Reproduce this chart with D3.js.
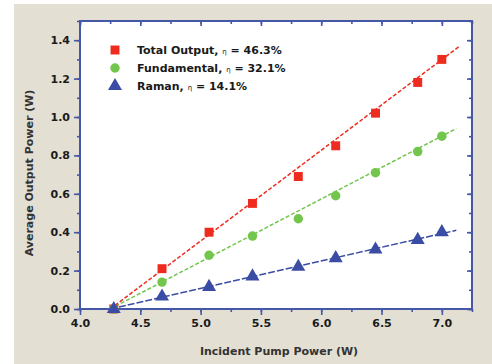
<!DOCTYPE html>
<html>
<head>
<meta charset="utf-8">
<script src="https://cdn.jsdelivr.net/npm/d3@7"></script>
<style>
  body { margin: 0; background: #fff; }
  text { font-family: 'DejaVu Sans', sans-serif; font-weight: bold; }
</style>
</head>
<body>
<div id="chart"></div>
<script>
'use strict'

// measured pump powers (W)
const pumpPower = [4.28, 4.68, 5.07, 5.43, 5.81, 6.12, 6.45, 6.8, 7.0]
// output powers (W)
const totalOutput = [0.0, 0.21, 0.40, 0.55, 0.69, 0.85, 1.02, 1.18, 1.30]
const fundamental = [0.0, 0.14, 0.28, 0.38, 0.47, 0.59, 0.71, 0.82, 0.90]
const raman = [0.0, 0.065, 0.115, 0.17, 0.22, 0.265, 0.31, 0.36, 0.40]
// linear fits, [x, y] end points
const totalFit = [[4.25, 0], [7.15, 1.37]]
const fundFit = [[4.25, 0], [7.12, 0.94]]
const ramanFit = [[4.25, 0], [7.12, 0.41]]

const xTicks = [4.0, 4.5, 5.0, 5.5, 6.0, 6.5, 7.0]
const yTicks = [0.0, 0.2, 0.4, 0.6, 0.8, 1.0, 1.2, 1.4]
const legendNames = ['Total Output, ', 'Fundamental, ', 'Raman, ']
const legendEta = ['46.3%', '32.1%', '14.1%']

const width = 492
const height = 364
const plot = { left: 80, right: 472, top: 21, bottom: 309 }
const axisBlue = '#4757a8'
const colors = ['#ee2b1f', '#72c64c', '#3a4ca4']
const dashes = ['4,2', '4,2', '7,2']

const svg = d3.select('#chart').append('svg')
  .attr('width', width)
  .attr('height', height)

// beige panel
svg.append('rect')
  .attr('x', 14).attr('y', 4)
  .attr('width', width - 14).attr('height', height - 4)
  .attr('fill', '#e3dfd3')

svg.append('rect')
  .attr('x', plot.left).attr('y', plot.top)
  .attr('width', plot.right - plot.left).attr('height', plot.bottom - plot.top)
  .attr('fill', '#fff')

const x = d3.scaleLinear().domain([4.0, 7.25]).range([plot.left, plot.right])
const y = d3.scaleLinear().domain([0, 1.5]).range([plot.bottom, plot.top])

const xMinor = d3.range(4.0, 7.26, 0.25)
const yMinor = d3.range(0, 1.51, 0.1)

function styleAxis (g) {
  g.select('.domain').remove()
  g.selectAll('line').attr('stroke', axisBlue).attr('stroke-width', 1.6)
  g.selectAll('text').attr('fill', '#1a1a1a').style('font-size', '11px')
}

// minor ticks
svg.append('g').attr('transform', `translate(0,${plot.bottom})`)
  .call(d3.axisBottom(x).tickValues(xMinor).tickSize(3).tickFormat(''))
  .call(styleAxis)
svg.append('g').attr('transform', `translate(0,${plot.top})`)
  .call(d3.axisBottom(x).tickValues(xMinor).tickSize(3).tickFormat(''))
  .call(styleAxis)
svg.append('g').attr('transform', `translate(${plot.left},0)`)
  .call(d3.axisLeft(y).tickValues(yMinor).tickSize(3).tickFormat(''))
  .call(styleAxis)
svg.append('g').attr('transform', `translate(${plot.right},0)`)
  .call(d3.axisLeft(y).tickValues(yMinor).tickSize(3).tickFormat(''))
  .call(styleAxis)

// major ticks
svg.append('g').attr('transform', `translate(0,${plot.bottom})`)
  .call(d3.axisBottom(x).tickValues(xTicks).tickSize(6).tickPadding(4).tickFormat(d3.format('.1f')))
  .call(styleAxis)
svg.append('g').attr('transform', `translate(0,${plot.top})`)
  .call(d3.axisBottom(x).tickValues(xTicks).tickSize(5).tickFormat(''))
  .call(styleAxis)
svg.append('g').attr('transform', `translate(${plot.left},0)`)
  .call(d3.axisLeft(y).tickValues(yTicks).tickSize(6).tickPadding(4).tickFormat(d3.format('.1f')))
  .call(styleAxis)
svg.append('g').attr('transform', `translate(${plot.right},0)`)
  .call(d3.axisLeft(y).tickValues(yTicks).tickSize(5).tickFormat(''))
  .call(styleAxis)

// frame
svg.append('rect')
  .attr('x', plot.left).attr('y', plot.top)
  .attr('width', plot.right - plot.left).attr('height', plot.bottom - plot.top)
  .attr('fill', 'none')
  .attr('stroke', axisBlue)
  .attr('stroke-width', 2)

// fit lines
const line = d3.line().x(d => x(d[0])).y(d => y(d[1]))
;[totalFit, fundFit, ramanFit].forEach((fit, i) => {
  svg.append('path')
    .attr('d', line(fit))
    .attr('fill', 'none')
    .attr('stroke', colors[i])
    .attr('stroke-width', 1.5)
    .attr('stroke-dasharray', dashes[i])
})

// markers
const symbols = [d3.symbolSquare, d3.symbolCircle, d3.symbolTriangle]
const sizes = [80, 70, 85]
;[totalOutput, fundamental, raman].forEach((series, i) => {
  svg.append('g').selectAll('path')
    .data(series)
    .join('path')
    .attr('d', d3.symbol().type(symbols[i]).size(sizes[i]))
    .attr('transform', (d, j) => `translate(${x(pumpPower[j])},${y(d)})`)
    .attr('fill', colors[i])
})

// legend
const legend = svg.append('g')
legendNames.forEach((name, i) => {
  const ly = 50 + i * 18
  legend.append('path')
    .attr('d', d3.symbol().type(symbols[i]).size(sizes[i])())
    .attr('transform', `translate(115,${ly})`)
    .attr('fill', colors[i])
  const t = legend.append('text')
    .attr('x', 137).attr('y', ly + 4)
    .attr('fill', '#1a1a1a')
    .style('font-size', '11px')
  t.append('tspan').text(name)
  t.append('tspan').text('\u03b7').style('font-size', '7px').style('font-weight', 'normal')
  t.append('tspan').text(' = ' + legendEta[i])
})

// axis titles
svg.append('text')
  .attr('x', 279).attr('y', 355)
  .attr('text-anchor', 'middle')
  .attr('fill', '#333')
  .style('font-size', '11px')
  .text('Incident Pump Power (W)')

svg.append('text')
  .attr('transform', 'translate(33,173) rotate(-90)')
  .attr('text-anchor', 'middle')
  .attr('fill', '#333')
  .style('font-size', '11px')
  .text('Average Output Power (W)')
</script>
</body>
</html>
